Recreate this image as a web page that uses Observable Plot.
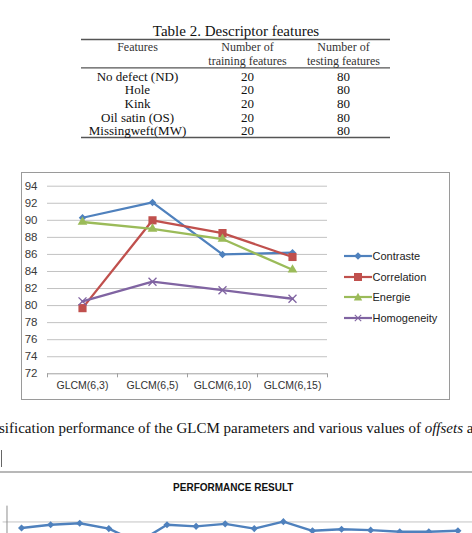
<!DOCTYPE html>
<html><head><meta charset="utf-8">
<script src="https://cdn.jsdelivr.net/npm/d3@7"></script>
<script src="https://cdn.jsdelivr.net/npm/@observablehq/plot@0.6"></script>
<style>
html,body{margin:0;padding:0;background:#fff;overflow:hidden;width:472px;height:533px}
#page{position:relative;width:472px;height:533px;overflow:hidden;background:#fff}
.leg{position:absolute;font:11px "Liberation Sans",Arial,sans-serif;color:#222;white-space:nowrap;display:flex;align-items:center;height:12px}
</style></head><body><div id="page"></div>
<script>
// ---------- data ----------
const tableTitle = "Table 2. Descriptor features";
const tableHeaders = [["Features"], ["Number of", "training features"], ["Number of", "testing features"]];
const featureNames = ["No defect (ND)", "Hole", "Kink", "Oil satin (OS)", "Missingweft(MW)"];
const trainingCounts = [20, 20, 20, 20, 20];
const testingCounts = [80, 80, 80, 80, 80];

const categories = ["GLCM(6,3)", "GLCM(6,5)", "GLCM(6,10)", "GLCM(6,15)"];
const seriesNames = ["Contraste", "Correlation", "Energie", "Homogeneity"];
const contraste = [90.3, 92.1, 86.0, 86.2];
const correlation = [79.7, 90.0, 88.5, 85.7];
const energie = [89.8, 89.0, 87.8, 84.2];
const homogeneity = [80.5, 82.8, 81.8, 80.8];
const yTicks = [72, 74, 76, 78, 80, 82, 84, 86, 88, 90, 92, 94];
const seriesColors = ["#4f81bd", "#c0504d", "#9bbb59", "#8064a2"];

const captionText = "sification performance of the GLCM parameters and various values of ";
const captionItalic = "offsets";
const captionEnd = " a";

const perfTitle = "PERFORMANCE RESULT";
const perfValues = [96.2, 98.2, 99.2, 95.8, 87.0, 98.2, 97.2, 98.8, 95.8, 100.2, 94.4, 95.4, 94.8, 93.8, 93.8, 94.4];
const perfGrid = [60, 70, 80, 90, 100];

// ---------- page ----------
const page = document.getElementById("page");
function place(el, left, top) { el.style.position = "absolute"; el.style.left = left + "px"; el.style.top = top + "px"; page.appendChild(el); return el; }

// ---------- table ----------
{
  const svg = d3.create("svg").attr("width", 472).attr("height", 150)
    .style("font-family", "'Liberation Serif','Times New Roman',serif").style("fill", "#111");
  svg.append("text").attr("x", 236).attr("y", 31).attr("text-anchor", "middle").attr("dominant-baseline", "central")
    .style("font-size", "15px").text(tableTitle);
  const colX = [137.5, 247.5, 343.5];
  const lineY = [39.5, 67.8, 137.5];
  lineY.forEach(y => svg.append("line").attr("x1", 81).attr("x2", 390).attr("y1", y).attr("y2", y)
    .attr("stroke", "#555").attr("stroke-width", 1.3));
  tableHeaders.forEach((h, j) => h.forEach((t, k) => svg.append("text").attr("x", colX[j]).attr("y", 47 + k * 14)
    .attr("text-anchor", "middle").attr("dominant-baseline", "central").style("font-size", "12px").style("fill", "#333").text(t)));
  featureNames.forEach((f, i) => {
    const y = 76 + i * 13.7;
    [f, trainingCounts[i], testingCounts[i]].forEach((t, j) => svg.append("text").attr("x", colX[j]).attr("y", y)
      .attr("text-anchor", "middle").attr("dominant-baseline", "central").style("font-size", "13px").text(t));
  });
  place(svg.node(), 0, 0);
}

// ---------- chart 1 ----------
const series = [contraste, correlation, energie, homogeneity];
const rows = [];
series.forEach((vals, k) => vals.forEach((v, i) => rows.push({ series: seriesNames[k], i, v })));
const bySeries = s => rows.filter(r => r.series === s);

const box = document.createElement("div");
box.style.cssText = "width:427px;height:226px;border:1.5px solid #9a9a9a;";
place(box, 21, 172);

const chart1 = Plot.plot({
  width: 429, height: 228,
  marginLeft: 26, marginRight: 123, marginTop: 13.7, marginBottom: 26.7,
  style: { fontFamily: "'Liberation Sans',Arial,sans-serif", fontSize: "10.5px", color: "#333", background: "transparent", overflow: "visible" },
  x: { type: "linear", domain: [-0.5, 3.5] },
  y: { domain: [72, 94] },
  marks: [
    Plot.gridY(yTicks.slice(1), { stroke: "#c2c2c2", strokeOpacity: 1, strokeWidth: 1 }),
    Plot.ruleY([72], { stroke: "#a0a0a0", strokeWidth: 1 }),
    Plot.axisY({ ticks: yTicks, tickSize: 0, tickPadding: 10, label: null, fill: "#3a3a3a" }),
    Plot.axisX({ ticks: [-0.5, 0.5, 1.5, 2.5, 3.5], tickSize: 4, tickFormat: () => "", label: null, stroke: "#a0a0a0" }),
    Plot.axisX({ ticks: [0, 1, 2, 3], tickSize: 0, tickPadding: 8, tickFormat: i => categories[i], label: null, fill: "#333" }),
    ...seriesNames.map((s, k) => Plot.line(bySeries(s), { x: "i", y: "v", stroke: seriesColors[k], strokeWidth: 2.3 })),
    Plot.dot(bySeries("Contraste"), { x: "i", y: "v", symbol: "diamond2", r: 3.4, fill: seriesColors[0], stroke: "none" }),
    Plot.dot(bySeries("Correlation"), { x: "i", y: "v", symbol: "square", r: 4.6, fill: seriesColors[1], stroke: "none" }),
    Plot.dot(bySeries("Energie"), { x: "i", y: "v", symbol: "triangle", r: 3.6, fill: seriesColors[2], stroke: "none" }),
    Plot.dot(bySeries("Homogeneity"), { x: "i", y: "v", symbol: "times", r: 3.7, stroke: seriesColors[3], strokeWidth: 1.3, fill: "none" })
  ]
});
d3.select(chart1).selectAll('g[aria-label="y-axis tick label"]').style("font-size", "11.5px").attr("font-size", "11.5");
place(chart1, 21, 172);

// legend
const legendMarkers = [
  c => `<path d="M14 1.2 L17.8 5 L14 8.8 L10.2 5Z" fill="${c}"/>`,
  c => `<rect x="10" y="1" width="8" height="8" fill="${c}"/>`,
  c => `<path d="M14 0.8 L18.2 8.4 L9.8 8.4Z" fill="${c}"/>`,
  c => `<path d="M10.8 1.8 L17.2 8.2 M17.2 1.8 L10.8 8.2" stroke="${c}" stroke-width="1.1" fill="none"/>`
];
const legendY = [256, 276.7, 297.4, 318];
seriesNames.forEach((s, k) => {
  const d = document.createElement("div");
  d.className = "leg";
  d.innerHTML = `<svg width="28" height="10" style="margin-right:1px"><line x1="0" x2="28" y1="5" y2="5" stroke="${seriesColors[k]}" stroke-width="2.2"/>${legendMarkers[k](seriesColors[k])}</svg>${s}`;
  place(d, 343.5, legendY[k] - 6);
});

// caption
{
  const d = document.createElement("div");
  d.style.cssText = "font:15px 'Liberation Serif','Times New Roman',serif;color:#111;white-space:nowrap;line-height:16px;";
  d.innerHTML = `${captionText}<i>${captionItalic}</i>${captionEnd}`;
  place(d, -1, 420);
}

// divider and small edge line
{
  const hr = document.createElement("div");
  hr.style.cssText = "width:472px;height:1.5px;background:#b8b8b8;";
  place(hr, 0, 471);
  const vl = document.createElement("div");
  vl.style.cssText = "width:1px;height:17px;background:#666;";
  place(vl, 1, 450);
}

// chart 2 title
{
  const t = document.createElement("div");
  t.style.cssText = "font:bold 10px 'Liberation Sans',Arial,sans-serif;color:#111;white-space:nowrap;width:200px;text-align:center;line-height:12px;";
  t.textContent = perfTitle;
  place(t, 133.3, 482.3);
}

// ---------- chart 2 ----------
const perfRows = perfValues.map((v, i) => ({ i, v }));
const chart2 = Plot.plot({
  width: 486.7, height: 136.2,
  marginLeft: 6.7, marginRight: 0, marginTop: 34.7, marginBottom: 20,
  style: { fontFamily: "'Liberation Sans',Arial,sans-serif", fontSize: "10px", background: "transparent", overflow: "visible" },
  x: { type: "linear", domain: [-0.5, 15.5], axis: null },
  y: { domain: [60, 110], axis: null },
  marks: [
    Plot.gridY(perfGrid, { stroke: "#c2c2c2", strokeOpacity: 1, insetLeft: -4 }),
    Plot.frame({ anchor: "left", stroke: "#8a8a8a" }),
    Plot.line(perfRows, { x: "i", y: "v", stroke: "#4f81bd", strokeWidth: 2.5 }),
    Plot.dot(perfRows, { x: "i", y: "v", symbol: "diamond2", r: 3.3, fill: "#4f81bd", stroke: "none" })
  ]
});
place(chart2, 0, 472);
</script></body></html>
